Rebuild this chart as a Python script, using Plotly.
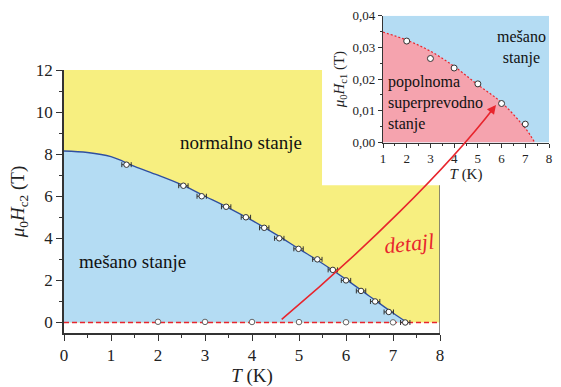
import plotly.graph_objects as go

# ---------------- data ----------------
# upper critical field Hc2 (main plot)
hc2_T = [1.33, 2.54, 2.93, 3.45, 3.87, 4.26, 4.58, 4.99, 5.39, 5.72, 6.00, 6.32, 6.62, 6.91, 7.26]
hc2_H = [7.5, 6.5, 6.0, 5.5, 5.0, 4.5, 4.0, 3.5, 3.0, 2.5, 2.0, 1.5, 1.0, 0.5, 0.0]
hc2_err = [0.1] * len(hc2_T)
# fitted Hc2 boundary line
fit2_T = [0, 0.5, 1, 1.5, 2, 2.5, 3, 3.5, 4, 4.5, 5, 5.5, 6, 6.5, 7, 7.3]
fit2_H = [8.15, 8.08, 7.88, 7.42, 7.0, 6.55, 6.0, 5.45, 4.85, 4.2, 3.5, 2.8, 2.05, 1.25, 0.45, 0.0]

# lower critical field Hc1 (inset)
hc1_T = [2, 3, 4, 5, 6, 7]
hc1_H = [0.032, 0.0265, 0.0235, 0.0185, 0.0123, 0.0058]
fit1_T = [1, 2, 3, 4, 5, 6, 7, 7.4]
fit1_H = [0.0348, 0.0323, 0.0288, 0.024, 0.0182, 0.0126, 0.0045, 0.0]

x_ticks = list(range(0, 9))
y_ticks = list(range(0, 13, 2))
inset_x_ticks = list(range(1, 9))
inset_y_ticks = [0.0, 0.01, 0.02, 0.03, 0.04]

W, H = 561, 387
YELLOW = "#F7EF80"
BLUE = "#B4DCF3"
PINK = "#F5A3AE"
RED = "#E8252D"
AX = "#333333"
FONT = "Liberation Serif, Times New Roman, DejaVu Serif, serif"

def pp(x, y):
    return x / W, 1 - y / H

fig = go.Figure()

# yellow "normal state" region (main plot area minus inset corner)
cut_x, cut_y = 5.49, 6.52
fig.add_trace(go.Scatter(
    x=[0, 8, 8, cut_x, cut_x, 0, 0], y=[0, 0, cut_y, cut_y, 12, 12, 0],
    fill="toself", fillcolor=YELLOW, line=dict(width=0), mode="lines",
    hoverinfo="skip", showlegend=False, xaxis="x", yaxis="y"))

# blue mixed-state region under Hc2 line
fig.add_trace(go.Scatter(
    x=fit2_T, y=fit2_H, mode="lines", fill="tozeroy", fillcolor=BLUE,
    line=dict(color="#2F4FA0", width=1.3, shape="spline"),
    showlegend=False, xaxis="x", yaxis="y"))

# red dashed Hc1 line on main scale
fig.add_trace(go.Scatter(
    x=[0, 8], y=[0, 0], mode="lines",
    line=dict(color=RED, width=1.6, dash="5px,3px"),
    showlegend=False, xaxis="x", yaxis="y"))

# Hc1 points on main scale
fig.add_trace(go.Scatter(
    x=hc1_T, y=hc1_H, mode="markers",
    marker=dict(symbol="circle", size=5.5, color="white", line=dict(color="#666", width=1)),
    showlegend=False, xaxis="x", yaxis="y"))

# Hc2 points with error bars
fig.add_trace(go.Scatter(
    x=hc2_T, y=hc2_H, mode="markers",
    error_x=dict(type="data", array=hc2_err, color="#333", thickness=1, width=2.5),
    marker=dict(symbol="circle", size=5.5, color="white", line=dict(color="#333", width=1)),
    showlegend=False, xaxis="x", yaxis="y"))

# ---- inset ----
fig.add_trace(go.Scatter(
    x=[1, 8, 8, 1, 1], y=[0, 0, 0.04, 0.04, 0], fill="toself", fillcolor=BLUE,
    line=dict(width=0), mode="lines", hoverinfo="skip", showlegend=False,
    xaxis="x2", yaxis="y2"))
fig.add_trace(go.Scatter(
    x=fit1_T, y=fit1_H, mode="lines", fill="tozeroy", fillcolor=PINK,
    line=dict(color=RED, width=1.2, dash="2px,2px", shape="spline"),
    showlegend=False, xaxis="x2", yaxis="y2"))
fig.add_trace(go.Scatter(
    x=hc1_T, y=hc1_H, mode="markers",
    marker=dict(symbol="circle", size=6, color="white", line=dict(color="#333", width=1)),
    showlegend=False, xaxis="x2", yaxis="y2"))

axis_common = dict(showgrid=False, zeroline=False, showline=True, linecolor=AX,
                   linewidth=1.5, ticks="outside", tickcolor=AX, tickwidth=1.2,
                   automargin=False,
                   tickfont=dict(family=FONT, size=17, color="#222"))
inset_common = dict(showgrid=False, zeroline=False, showline=True, linecolor=AX, linewidth=1.3,
                    ticks="outside", tickcolor=AX, tickwidth=1, ticklen=4, automargin=False,
                    tickfont=dict(family=FONT, size=13, color="#222"))

fig.update_layout(
    width=W, height=H, margin=dict(l=0, r=0, t=0, b=0, autoexpand=False),
    paper_bgcolor="white", plot_bgcolor="rgba(0,0,0,0)",
    separators=",.", showlegend=False,
    xaxis=dict(**axis_common, domain=[64 / W, 440 / W], range=[0, 8],
               tickvals=x_ticks, ticklen=6, anchor="y",
               minor=dict(ticks="outside", ticklen=3, dtick=0.5, tickcolor=AX),
               title=dict(text="<i>T</i> (K)", font=dict(family=FONT, size=19, color="#222"), standoff=6)),
    yaxis=dict(**axis_common, domain=[1 - 333 / H, 1 - 70 / H], range=[-0.5, 12],
               tickvals=y_ticks, ticklen=6, anchor="x",
               minor=dict(ticks="outside", ticklen=3, dtick=1, tick0=0, tickcolor=AX),
               title=dict(text="<i>μ</i><sub>0</sub><i>H</i><sub>c2</sub> (T)",
                          font=dict(family=FONT, size=19, color="#222"), standoff=6)),
    xaxis2=dict(**inset_common,
                domain=[383 / W, 549 / W], range=[1, 8], tickvals=inset_x_ticks, anchor="y2",
                minor=dict(ticks="outside", ticklen=2, dtick=0.5, tickcolor=AX),
                title=dict(text="<i>T</i> (K)", font=dict(family=FONT, size=15, color="#222"), standoff=2)),
    yaxis2=dict(**inset_common,
                domain=[1 - 142.5 / H, 1 - 15.7 / H], range=[0, 0.04],
                tickvals=inset_y_ticks, tickformat=".2f", anchor="x2",
                minor=dict(ticks="outside", ticklen=2, dtick=0.005, tickcolor=AX),
                title=dict(text="<i>μ</i><sub>0</sub><i>H</i><sub>c1</sub> (T)",
                           font=dict(family=FONT, size=15, color="#222"), standoff=4)),
)

# right spine of main plot (below inset)
fig.add_shape(type="line", xref="x", yref="y", x0=8, x1=8, y0=-0.5, y1=cut_y,
              line=dict(color="#666", width=1.5), layer="above")

# curved "detajl" arrow
p0 = pp(281.7, 319.3); c1 = pp(361.7, 252.1); c2 = pp(445.7, 170.3); p3 = pp(494.5, 107)
path = f"M {p0[0]},{p0[1]} C {c1[0]},{c1[1]} {c2[0]},{c2[1]} {p3[0]},{p3[1]}"
fig.add_shape(type="path", xref="paper", yref="paper", path=path,
              line=dict(color=RED, width=1.6), layer="above")
tip = pp(496, 105)
fig.add_annotation(x=tip[0], y=tip[1], xref="paper", yref="paper", text="",
                   showarrow=True, ax=-7, ay=9, arrowhead=2, arrowsize=1.2,
                   arrowwidth=1.5, arrowcolor=RED, standoff=0)

# text labels
fig.add_annotation(x=3.77, y=8.57, xref="x", yref="y", text="normalno stanje",
                   showarrow=False, font=dict(family=FONT, size=19, color="#111"))
fig.add_annotation(x=1.45, y=2.9, xref="x", yref="y", text="mešano stanje",
                   showarrow=False, font=dict(family=FONT, size=19, color="#111"))
fig.add_annotation(x=7.34, y=3.76, xref="x", yref="y", text="detajl", textangle=-6,
                   showarrow=False, font=dict(family=FONT, size=22, color=RED, style="italic"))
fig.add_annotation(x=6.82, y=0.030, xref="x2", yref="y2", text="mešano<br>stanje",
                   showarrow=False, align="center",
                   font=dict(family=FONT, size=16, color="#111"))
fig.add_annotation(x=1.13, y=0.0124, xref="x2", yref="y2",
                   text="popolnoma<br>superprevodno<br>stanje",
                   showarrow=False, align="left", xanchor="left",
                   font=dict(family=FONT, size=16, color="#111"))

fig.write_html("out.html")
